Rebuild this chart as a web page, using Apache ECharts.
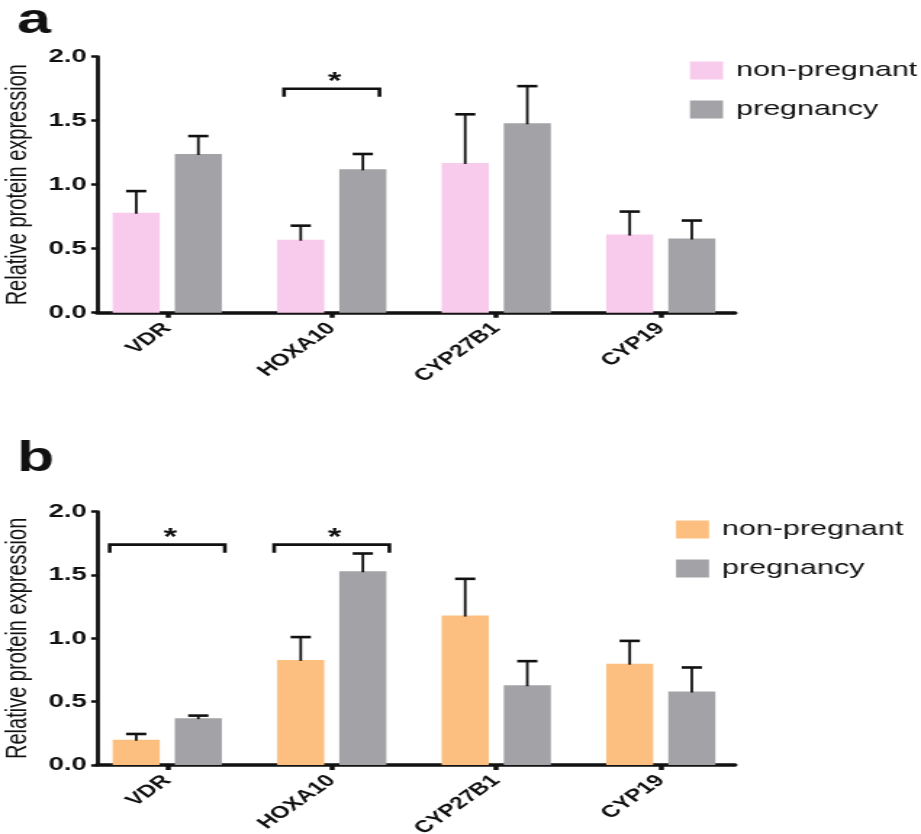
<!DOCTYPE html>
<html><head><meta charset="utf-8">
<script src="https://cdn.jsdelivr.net/npm/echarts@6/dist/echarts.min.js"></script>
<style>
html,body{margin:0;padding:0;background:#fff;overflow:hidden;}
#c{width:635px;height:834px;transform:scaleX(1.4504);transform-origin:0 0;}
</style>
</head><body><div id="c"></div>
<script>
// ---- data ----
const categories = ['VDR', 'HOXA10', 'CYP27B1', 'CYP19'];
const seriesNames = ['non-pregnant', 'pregnancy'];
const yAxisTitle = 'Relative protein expression';
const panelLabels = ['a', 'b'];

const aNonPregnant    = [0.78, 0.57, 1.17, 0.61];
const aNonPregnantErr = [0.17, 0.11, 0.38, 0.18];
const aPregnancy      = [1.24, 1.12, 1.48, 0.58];
const aPregnancyErr   = [0.14, 0.12, 0.29, 0.14];

const bNonPregnant    = [0.20, 0.83, 1.18, 0.80];
const bNonPregnantErr = [0.045, 0.18, 0.29, 0.18];
const bPregnancy      = [0.37, 1.53, 0.63, 0.58];
const bPregnancyErr   = [0.02, 0.14, 0.19, 0.19];

// significance brackets: [category index, bracket level]
const aSignif = [[1, 1.75]];
const bSignif = [[0, 1.74], [1, 1.74]];

const yMin = 0, yMax = 2, yInterval = 0.5;

// ---- layout / style ----
const S = 1.4504;               // horizontal stretch of the figure
const X = v => v / S;
const FONT = '"Liberation Sans", Arial, Helvetica, sans-serif';
const BAR_FRAC = 0.286, BAR_GAP = 0.32;
const CAP_HALF = 7;

const panels = [
  { label: panelLabels[0], labelTop: 0, top: 56.7, height: 256,
    colors: ['#F8CAEC', '#A3A2A6'], legendLeft: 690, legendTop: 60,
    nonPreg: aNonPregnant, nonPregErr: aNonPregnantErr,
    preg: aPregnancy, pregErr: aPregnancyErr, signif: aSignif, bracketHalf: 0.29 },
  { label: panelLabels[1], labelTop: 438, top: 511.7, height: 253.3,
    colors: ['#FDBF7F', '#A3A2A6'], legendLeft: 676, legendTop: 519,
    nonPreg: bNonPregnant, nonPregErr: bNonPregnantErr,
    preg: bPregnancy, pregErr: bPregnancyErr, signif: bSignif, bracketHalf: 0.35 }
];

function errorRender(sign) {
  return function (params, api) {
    const idx = api.value(0), v = api.value(1), e = api.value(2);
    const bw = api.size([1, 0])[0];
    const barW = bw * BAR_FRAC;
    const off = sign * barW * (1 + BAR_GAP) / 2;
    const base = api.coord([idx, v]);
    const top = api.coord([idx, v + e]);
    const x = base[0] + off;
    return { type: 'group', children: [
      { type: 'line', shape: { x1: x, y1: base[1] + 1, x2: x, y2: top[1] },
        style: { stroke: '#111', lineWidth: 1.8 } },
      { type: 'line', shape: { x1: x - CAP_HALF, y1: top[1], x2: x + CAP_HALF, y2: top[1] },
        style: { stroke: '#111', lineWidth: 2.6 } }
    ]};
  };
}
function bracketRender(half) {
  return function (params, api) {
    const idx = api.value(0), lvl = api.value(1);
    const c = api.coord([idx, lvl]);
    const bw = api.size([1, 0])[0];
    const hw = bw * half;
    const drop = 8;
    return { type: 'group', children: [
      { type: 'polyline', shape: { points: [[c[0] - hw, c[1] + drop], [c[0] - hw, c[1]], [c[0] + hw, c[1]], [c[0] + hw, c[1] + drop]] },
        style: { stroke: '#111', lineWidth: 2.6, fill: null } },
      { type: 'text', x: c[0] + 2, y: c[1] - 6,
        style: { text: '*', fontSize: 24, fontWeight: 'bold', fontFamily: FONT, align: 'center', verticalAlign: 'middle', fill: '#111' } }
    ]};
  };
}

const option = { animation: false, backgroundColor: '#fff',
  title: [], grid: [], xAxis: [], yAxis: [], legend: [], series: [] };

panels.forEach((p, k) => {
  const g0 = k * 2, g1 = k * 2 + 1;
  option.title.push({ text: p.label, left: X(17), top: p.labelTop, padding: 0,
    textStyle: { fontSize: 42, fontWeight: 'bold', fontFamily: FONT, color: '#111' } });
  option.grid.push({ left: X(85), width: X(658), top: p.top, height: p.height, outerBoundsMode: 'none', containLabel: false });
  option.grid.push({ left: X(97), width: X(638), top: p.top, height: p.height, outerBoundsMode: 'none', containLabel: false });
  option.xAxis.push({ gridIndex: g0, type: 'category', data: categories,
    axisLine: { show: false },
    axisTick: { show: true, alignWithLabel: true, length: 5, lineStyle: { width: 3.5, color: '#111' } },
    axisLabel: { rotate: 45, margin: 13, fontSize: 17, fontWeight: 'bold', fontFamily: FONT, color: '#111' } });
  option.xAxis.push({ gridIndex: g1, type: 'value', min: 0, max: 1,
    axisLine: { show: true, lineStyle: { width: 3.5, color: '#111' } },
    axisTick: { show: false }, axisLabel: { show: false }, splitLine: { show: false } });
  option.yAxis.push({ gridIndex: g0, type: 'value', min: yMin, max: yMax, show: false, splitLine: { show: false } });
  option.yAxis.push({ gridIndex: g1, type: 'value', min: yMin, max: yMax, interval: yInterval,
    name: yAxisTitle, nameLocation: 'middle', nameGap: 44, nameMoveOverlap: false,
    nameTextStyle: { fontSize: 20, fontFamily: FONT, color: '#111' },
    axisLine: { show: true, lineStyle: { width: 2.8, color: '#111' } },
    axisTick: { show: true, length: 4, lineStyle: { width: 2.5, color: '#111' } },
    axisLabel: { fontSize: 19, fontWeight: 'bold', fontFamily: FONT, color: '#111', margin: 7,
      formatter: v => v.toFixed(1) },
    splitLine: { show: false } });
  option.legend.push({ orient: 'vertical', left: X(p.legendLeft), top: p.legendTop,
    itemWidth: X(33), itemHeight: 18, itemGap: 18, icon: 'rect', selectedMode: false,
    padding: 0,
    data: seriesNames.map((n, i) => ({ name: n, itemStyle: { color: p.colors[i] } })),
    textStyle: { fontSize: 21, fontFamily: FONT, color: '#111', padding: [0, 0, 0, 4] } });

  const vals = [p.nonPreg, p.preg], errs = [p.nonPregErr, p.pregErr];
  vals.forEach((arr, i) => {
    option.series.push({ type: 'bar', name: seriesNames[i], xAxisIndex: g0, yAxisIndex: g0,
      data: arr, barWidth: (BAR_FRAC * 100) + '%', barGap: (BAR_GAP * 100) + '%',
      itemStyle: { color: p.colors[i] }, z: 2 });
  });
  vals.forEach((arr, i) => {
    option.series.push({ type: 'custom', xAxisIndex: g0, yAxisIndex: g0,
      renderItem: errorRender(i === 0 ? -1 : 1), encode: { x: 0, y: 1 },
      data: arr.map((v, j) => [j, v, errs[i][j]]), z: 3 });
  });
  option.series.push({ type: 'custom', xAxisIndex: g0, yAxisIndex: g0,
    renderItem: bracketRender(p.bracketHalf), encode: { x: 0, y: 1 },
    data: p.signif, z: 3 });
});

const chart = echarts.init(document.getElementById('c'));
chart.setOption(option);
</script></body></html>
